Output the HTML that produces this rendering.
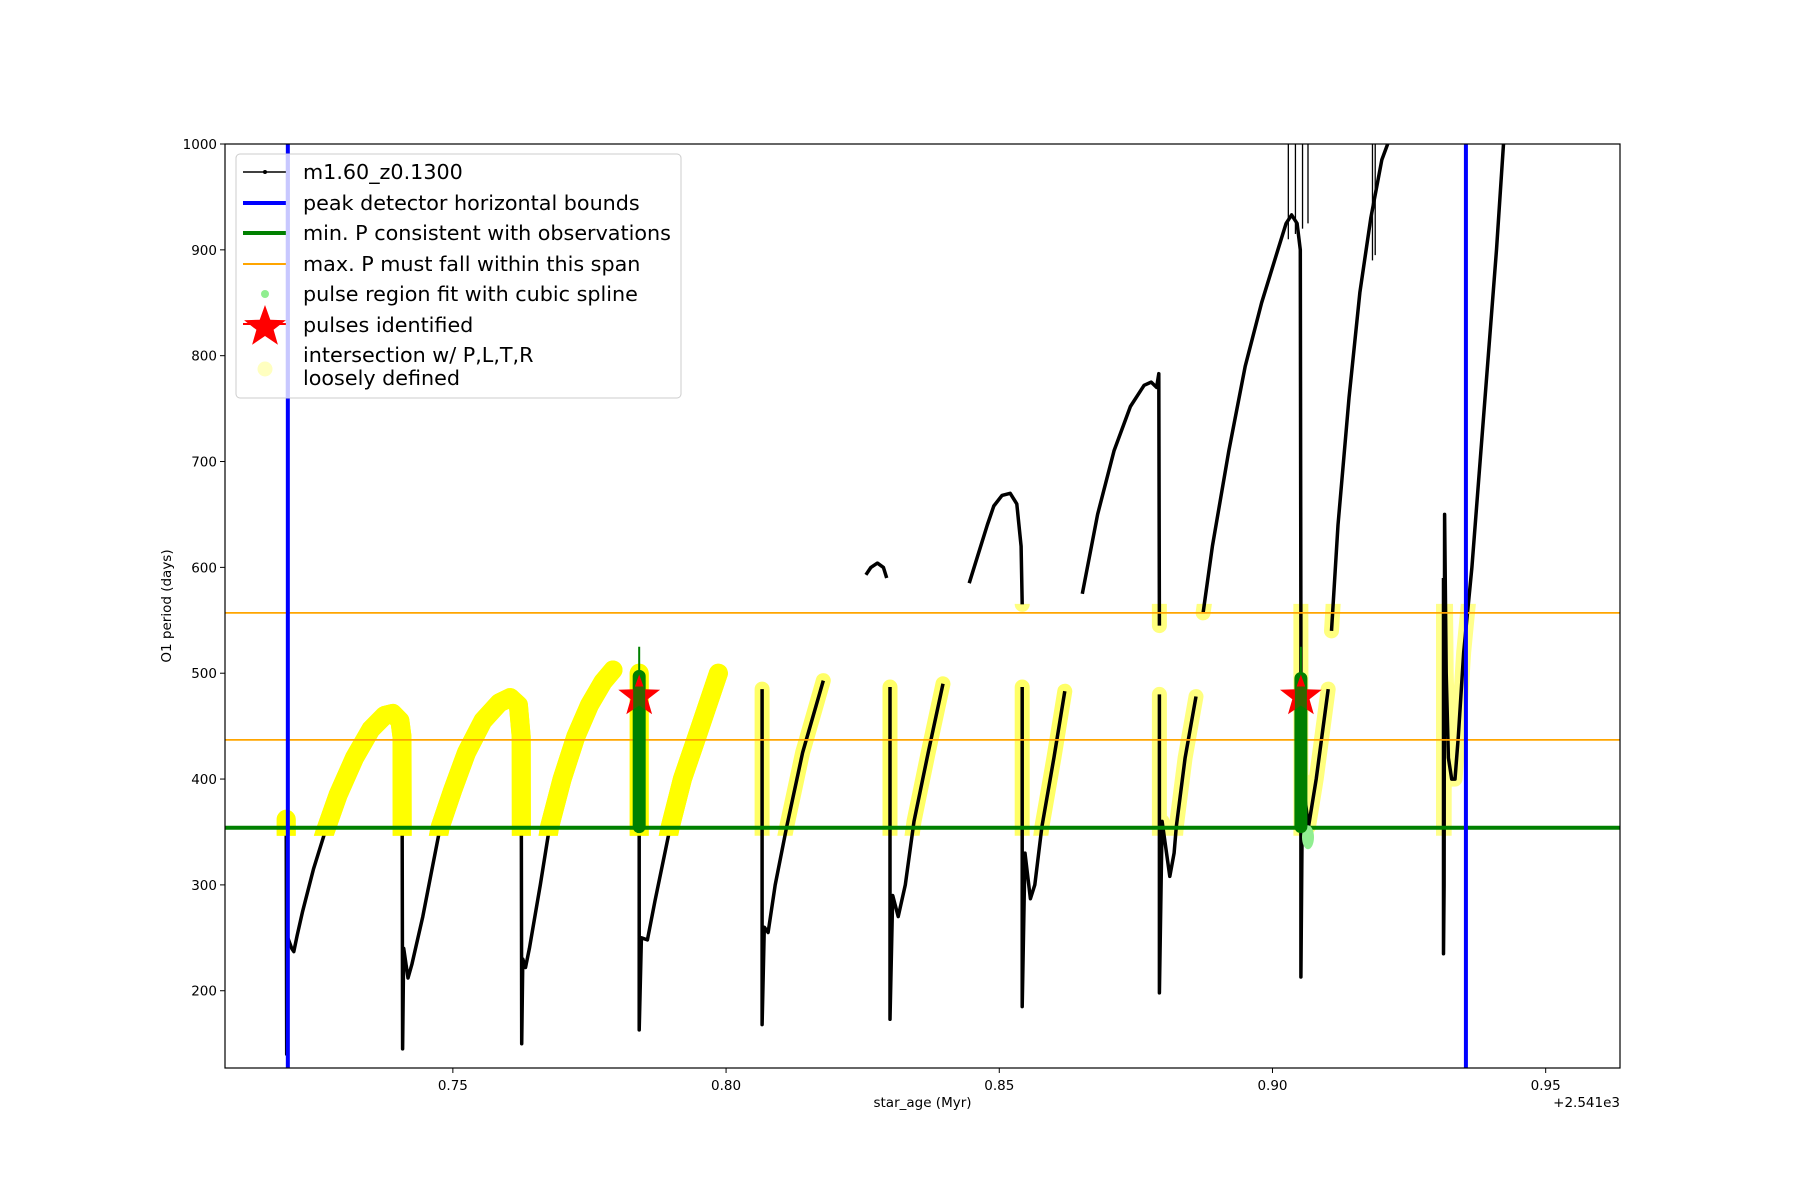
<!DOCTYPE html>
<html><head><meta charset="utf-8"><style>
html,body{margin:0;padding:0;background:#fff}
svg{display:block;font-family:"DejaVu Sans","Liberation Sans",sans-serif}
</style></head><body>
<svg id="chart" width="1800" height="1200" viewBox="0 0 1800 1200" xmlns="http://www.w3.org/2000/svg">
<defs><clipPath id="plotclip"><rect x="225" y="144" width="1395" height="924"/></clipPath>
<clipPath id="bandclip"><rect id="bandrect" x="225" y="0" width="1395" height="0"/></clipPath></defs>
<g id="plot" clip-path="url(#plotclip)"></g>
<g id="axes"></g>
<g id="legend"></g>
</svg>
<script>
const xTicks = [0.75, 0.80, 0.85, 0.90, 0.95];
const xTickLabels = ["0.75", "0.80", "0.85", "0.90", "0.95"];
const yTicks = [200, 300, 400, 500, 600, 700, 800, 900, 1000];
const blueBounds = [0.7198, 0.9354];
const minP = 354;
const maxPSpan = [437, 557];
const seg1 = [[0.7195,362],[0.7196,140],[0.7198,250],[0.7205,240],[0.7209,237],[0.7215,252],[0.7225,275],[0.7245,315],[0.7266,350],[0.729,385],[0.732,420],[0.735,447],[0.7375,460],[0.739,462],[0.7403,455],[0.7407,440],[0.7408,145],[0.741,240],[0.7418,212],[0.7425,225],[0.7445,270],[0.746,310],[0.7477,355],[0.75,390],[0.7525,425],[0.7555,455],[0.7585,472],[0.7605,477],[0.762,470],[0.7625,440],[0.7626,150],[0.7628,230],[0.7633,222],[0.764,240],[0.766,300],[0.7677,355],[0.77,400],[0.7725,440],[0.775,470],[0.7775,492],[0.7793,503]];
const seg2 = [[0.7841,500],[0.7841,163],[0.7845,250],[0.7856,248],[0.787,285],[0.7898,355],[0.792,400],[0.795,445],[0.7986,500]];
const seg3 = [[0.8066,485],[0.8066,168],[0.807,260],[0.8077,255],[0.809,300],[0.8111,355],[0.814,425],[0.8178,493]];
const seg4 = [[0.8256,593],[0.8265,600],[0.8277,604],[0.8288,600],[0.8294,590]];
const seg5 = [[0.830,487],[0.830,173],[0.8305,290],[0.8315,270],[0.8328,300],[0.8344,360],[0.837,425],[0.8397,490]];
const seg6 = [[0.8445,585],[0.846,610],[0.8478,640],[0.849,658],[0.8505,668],[0.852,670],[0.8532,660],[0.854,620],[0.8542,565]];
const seg7 = [[0.8542,487],[0.8542,185],[0.8547,330],[0.8557,287],[0.8565,300],[0.8578,355],[0.86,420],[0.862,483]];
const seg8 = [[0.8652,575],[0.868,650],[0.871,710],[0.874,752],[0.8765,772],[0.8778,775],[0.8788,770],[0.8792,783],[0.8793,545]];
const seg9 = [[0.8793,480],[0.8793,198],[0.8798,360],[0.8812,308],[0.882,330],[0.8824,355],[0.884,420],[0.886,478]];
const seg10 = [[0.8873,557],[0.889,620],[0.892,710],[0.895,790],[0.898,850],[0.901,900],[0.9025,925],[0.9035,933],[0.9045,925],[0.9051,900],[0.9052,540],[0.9052,213],[0.9055,400],[0.9066,355],[0.908,400],[0.9102,485]];
const seg11 = [[0.9108,540],[0.912,640],[0.914,760],[0.916,860],[0.918,930],[0.92,985],[0.9218,1010]];
const seg12 = [[0.9313,590],[0.9313,235],[0.9314,300],[0.9315,650],[0.9318,500],[0.9322,420],[0.9328,400],[0.9334,400],[0.934,440],[0.935,520],[0.9365,600],[0.938,700],[0.9395,800],[0.941,900],[0.9424,1010]];
const segments = [seg1, seg2, seg3, seg4, seg5, seg6, seg7, seg8, seg9, seg10, seg11, seg12];
const yellowOpacity = [1, 1, 0.6, 0.5, 0.6, 0.5, 0.6, 0.5, 0.5, 0.5, 0.5, 0.45];
const spikeX = [0.9029, 0.9042, 0.9055, 0.9065, 0.9183, 0.9188];
const spikeLow = [910, 915, 920, 925, 890, 895];
const pulseX = [0.7841, 0.9052];
const pulseLow = [355, 355];
const pulseHigh = [497, 495];
const pulseSpike = [525, 525];
const starY = [478, 478];
const splineX = [0.9065];
const splineY = [345];

const NS = "http://www.w3.org/2000/svg";
const X0 = 225, X1 = 1620, Y0 = 1068, Y1 = 144;
const xmin = 0.7083, xmax = 0.9636, ymin = 127, ymax = 1000;
const sx = v => X0 + (v - xmin) / (xmax - xmin) * (X1 - X0);
const sy = v => Y0 - (v - ymin) / (ymax - ymin) * (Y0 - Y1);
function mk(tag, attrs, parent) { const e = document.createElementNS(NS, tag); for (const k in attrs) e.setAttribute(k, attrs[k]); parent.appendChild(e); return e; }
const plot = document.getElementById('plot');
const axes = document.getElementById('axes');
const leg = document.getElementById('legend');
const br = document.getElementById('bandrect');
br.setAttribute('y', sy(maxPSpan[1]) - 9);
br.setAttribute('height', sy(minP) - sy(maxPSpan[1]) + 17);
const pts = s => s.map(p => sx(p[0]).toFixed(1) + ',' + sy(p[1]).toFixed(1)).join(' ');

const yg = mk('g', {'clip-path': 'url(#bandclip)'}, plot);


segments.forEach((s, i) => {
  const pl = mk('polyline', {points: pts(s), fill: 'none', stroke: '#ffff00', 'stroke-width': i < 2 ? 19 : 15, 'stroke-linecap': 'round', 'stroke-linejoin': 'round', opacity: yellowOpacity[i]}, yg);
  
  
});
const bg = mk('g', {}, plot);


segments.forEach((s, i) => {
  const pl = mk('polyline', {points: pts(s), fill: 'none', stroke: '#000', 'stroke-width': 3.5, 'stroke-linejoin': 'round'}, bg);
  
  
});
spikeX.forEach((v, i) => {
  const l = mk('line', {x1: sx(v), x2: sx(v), y1: sy(spikeLow[i]), y2: sy(1000), stroke: '#000', 'stroke-width': 1.3}, bg);
  
  
});
segments.slice(0, 2).forEach((s, i) => {
  const pl = mk('polyline', {points: pts(s), fill: 'none', stroke: '#ffff00', 'stroke-width': 19, 'stroke-linecap': 'round', 'stroke-linejoin': 'round', 'clip-path': 'url(#bandclip)'}, plot);
  
  
});
const hg = mk('line', {x1: X0, x2: X1, y1: sy(minP), y2: sy(minP), stroke: '#008000', 'stroke-width': 4}, plot);


maxPSpan.forEach(v => {
  const l = mk('line', {x1: X0, x2: X1, y1: sy(v), y2: sy(v), stroke: '#ffa500', 'stroke-width': 1.8}, plot);
  
  
});
splineX.forEach((v, i) => {
  const e = mk('ellipse', {cx: sx(v), cy: sy(splineY[i]), rx: 6, ry: 12, fill: '#90ee90'}, plot);
  
  
});
pulseX.forEach((v, i) => {
  const t = mk('line', {x1: sx(v), x2: sx(v), y1: sy(pulseHigh[i]), y2: sy(pulseSpike[i]), stroke: '#008000', 'stroke-width': 2}, plot);
  
  
  const g = mk('line', {x1: sx(v), x2: sx(v), y1: sy(pulseLow[i]), y2: sy(pulseHigh[i]), stroke: '#008000', 'stroke-width': 13, 'stroke-linecap': 'round'}, plot);
  
  
});
function starPts(cx, cy, R, r) { let a = []; for (let k = 0; k < 10; k++) { const ang = -Math.PI / 2 + k * Math.PI / 5; const rr = k % 2 ? r : R; a.push((cx + rr * Math.cos(ang)).toFixed(1) + ',' + (cy + rr * Math.sin(ang)).toFixed(1)); } return a.join(' '); }
pulseX.forEach((v, i) => {
  const s = mk('polygon', {points: starPts(sx(v), sy(starY[i]), 22, 9), fill: '#ff0000'}, plot);
  
  
  const g = mk('line', {x1: sx(v), x2: sx(v), y1: sy(starY[i]) - 10, y2: sy(starY[i]) + 14, stroke: '#008000', 'stroke-width': 12, opacity: 0.8}, plot);
  
  
});
blueBounds.forEach(v => {
  const l = mk('line', {x1: sx(v), x2: sx(v), y1: Y1, y2: Y0, stroke: '#0000ff', 'stroke-width': 4}, plot);
  
  
});
const fr = mk('rect', {x: X0, y: Y1, width: X1 - X0, height: Y0 - Y1, fill: 'none', stroke: '#000', 'stroke-width': 1.2}, axes);


xTicks.forEach((v, i) => {
  mk('line', {x1: sx(v), x2: sx(v), y1: Y0, y2: Y0 + 5, stroke: '#000', 'stroke-width': 1}, axes);
  const t = mk('text', {x: sx(v), y: Y0 + 22, 'font-size': 13.5, 'text-anchor': 'middle'}, axes);
  t.textContent = xTickLabels[i];
  
  
});
yTicks.forEach(v => {
  mk('line', {x1: X0 - 5, x2: X0, y1: sy(v), y2: sy(v), stroke: '#000', 'stroke-width': 1}, axes);
  const t = mk('text', {x: X0 - 8, y: sy(v) + 5, 'font-size': 13.5, 'text-anchor': 'end'}, axes);
  t.textContent = String(v);
  
  
});
const xl = mk('text', {x: (X0 + X1) / 2, y: 1107, 'font-size': 13.5, 'text-anchor': 'middle'}, axes);
xl.textContent = 'star_age (Myr)';


const off = mk('text', {x: X1, y: 1107, 'font-size': 13.5, 'text-anchor': 'end'}, axes);
off.textContent = '+2.541e3';


const yl = mk('text', {x: 0, y: 0, 'font-size': 13.5, 'text-anchor': 'middle', transform: 'translate(171,606) rotate(-90)'}, axes);
yl.textContent = 'O1 period (days)';


const lb = mk('rect', {x: 236, y: 154, width: 445, height: 244, rx: 4, fill: '#fff', 'fill-opacity': 0.8, stroke: '#ccc', 'stroke-width': 1}, leg);


const legLabels = ['m1.60_z0.1300', 'peak detector horizontal bounds', 'min. P consistent with observations', 'max. P must fall within this span', 'pulse region fit with cubic spline', 'pulses identified'];
const legY = [172, 203, 233, 264, 294, 325];
legLabels.forEach((s, i) => {
  const t = mk('text', {x: 303, y: legY[i] + 7, 'font-size': 20.7}, leg);
  t.textContent = s;
  
  
});
mk('line', {x1: 243, x2: 286, y1: 172, y2: 172, stroke: '#000', 'stroke-width': 1.5}, leg);
mk('circle', {cx: 265, cy: 172, r: 2, fill: '#000'}, leg);
mk('line', {x1: 243, x2: 286, y1: 203, y2: 203, stroke: '#0000ff', 'stroke-width': 4}, leg);
mk('line', {x1: 243, x2: 286, y1: 233, y2: 233, stroke: '#008000', 'stroke-width': 4}, leg);
mk('line', {x1: 243, x2: 286, y1: 264, y2: 264, stroke: '#ffa500', 'stroke-width': 2}, leg);
mk('circle', {cx: 265, cy: 294, r: 4, fill: '#90ee90'}, leg);
mk('line', {x1: 243, x2: 286, y1: 324, y2: 324, stroke: '#ff0000', 'stroke-width': 2}, leg);
mk('polygon', {points: starPts(265, 327, 22, 9), fill: '#ff0000'}, leg);
mk('circle', {cx: 265, cy: 369, r: 7.5, fill: '#ffffc0'}, leg);
const t7 = mk('text', {x: 303, y: 362, 'font-size': 20.7}, leg);
t7.textContent = 'intersection w/ P,L,T,R';


const t8 = mk('text', {x: 303, y: 385, 'font-size': 20.7}, leg);
t8.textContent = 'loosely defined';


const bl = mk('line', {x1: sx(blueBounds[0]), x2: sx(blueBounds[0]), y1: 154, y2: 398, stroke: '#c8c8ff', 'stroke-width': 4}, leg);


</script>
</body></html>
